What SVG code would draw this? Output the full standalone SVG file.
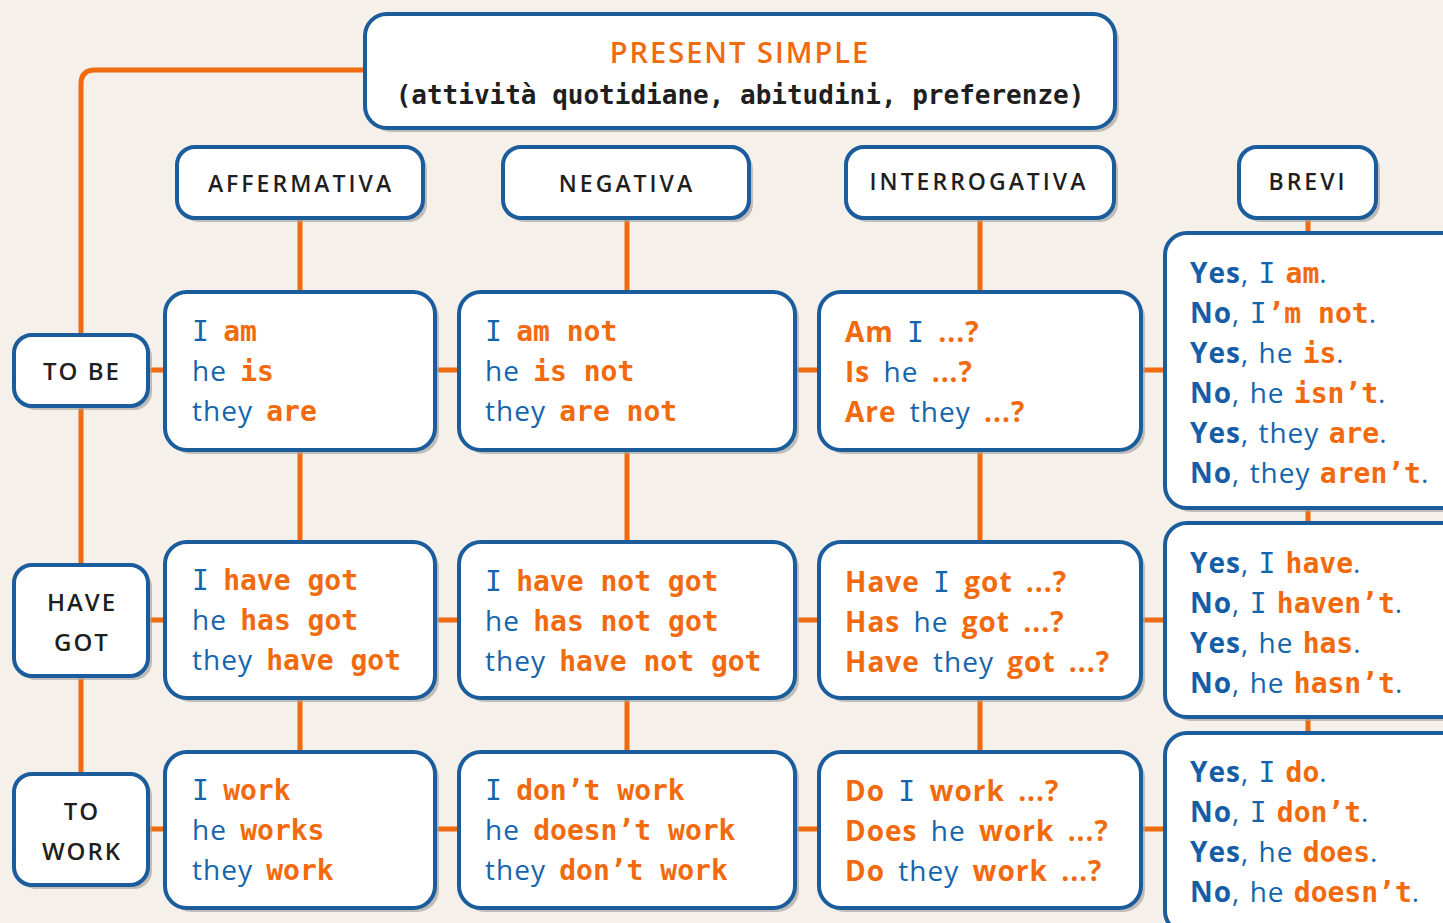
<svg xmlns="http://www.w3.org/2000/svg" width="1443" height="923" viewBox="0 0 1443 923">
<style>
.bg{fill:#f6f0ea}
.box{fill:#ffffff;stroke:#1a5c9c;stroke-width:4}
.sh{fill:#a9a6a3;opacity:0.7}
.con{stroke:#f06a10;stroke-width:5;fill:none}
.hd{font-family:"Open Sans","Noto Sans",sans-serif;font-size:23px;font-weight:600;fill:#1f1f1f;letter-spacing:3px;text-anchor:middle}
.lb{font-family:"Open Sans","Noto Sans",sans-serif;font-size:24px;font-weight:600;fill:#1f1f1f;letter-spacing:2px;text-anchor:middle}
.t{font-family:"Open Sans","Noto Sans",sans-serif;font-size:28px;fill:#1565ad;letter-spacing:1px;word-spacing:5px}
.s{word-spacing:1px}
.m{font-family:"DejaVu Sans Mono",monospace;font-weight:normal}
.o{font-family:"DejaVu Sans Mono",monospace;font-weight:bold;fill:#f26a0e;font-size:28px;letter-spacing:0;word-spacing:0}
.ob{font-family:"Open Sans","Noto Sans",sans-serif;font-weight:bold;fill:#f26a0e}
.yb{font-weight:bold;fill:#155ea6}
.title{font-family:"Open Sans","Noto Sans",sans-serif;font-size:29px;font-weight:600;fill:#f26a0e;letter-spacing:2px;text-anchor:middle}
.sub{font-family:"DejaVu Sans Mono",monospace;font-size:26px;font-weight:bold;fill:#1f1f1f;text-anchor:middle}
</style>
<rect class="bg" x="0" y="0" width="1443" height="923"/>
<g id="connectors">
<path class="con" d="M365 70 H95 Q81 70 81 84 V775"/>
<path class="con" d="M148 370 H165 M148 620 H165 M148 829 H165"/>
<path class="con" d="M435 370 H459 M795 370 H819 M1141 370 H1165"/>
<path class="con" d="M435 620 H459 M795 620 H819 M1141 620 H1165"/>
<path class="con" d="M435 829 H459 M795 829 H819 M1141 829 H1165"/>
<path class="con" d="M300 218 V292 M300 450 V542 M300 698 V752"/>
<path class="con" d="M627 218 V292 M627 450 V542 M627 698 V752"/>
<path class="con" d="M980 218 V292 M980 450 V542 M980 698 V752"/>
<path class="con" d="M1308 218 V233 M1308 508 V523 M1308 717 V733"/>
</g>
<g id="title">
<rect class="sh" x="369" y="18" width="750" height="114" rx="22"/>
<rect class="box" x="365" y="14" width="750" height="114" rx="22"/>
<text class="title" x="740" y="63">PRESENT SIMPLE</text>
<text class="sub" x="740" y="104">(attività quotidiane, abitudini, preferenze)</text>
</g>
<g id="h-affermativa">
<rect class="sh" x="181" y="151" width="246" height="71" rx="18"/>
<rect class="box" x="177" y="147" width="246" height="71" rx="18"/>
<text class="hd" x="301" y="192">AFFERMATIVA</text>
</g>
<g id="h-negativa">
<rect class="sh" x="507" y="151" width="246" height="71" rx="18"/>
<rect class="box" x="503" y="147" width="246" height="71" rx="18"/>
<text class="hd" x="627" y="192">NEGATIVA</text>
</g>
<g id="h-interrogativa">
<rect class="sh" x="850" y="151" width="268" height="71" rx="18"/>
<rect class="box" x="846" y="147" width="268" height="71" rx="18"/>
<text class="hd" x="979" y="190">INTERROGATIVA</text>
</g>
<g id="h-brevi">
<rect class="sh" x="1243" y="151" width="137" height="71" rx="18"/>
<rect class="box" x="1239" y="147" width="137" height="71" rx="18"/>
<text class="hd" x="1308" y="190">BREVI</text>
</g>
<g id="l-tobe">
<rect class="sh" x="18" y="339" width="134" height="71" rx="18"/>
<rect class="box" x="14" y="335" width="134" height="71" rx="18"/>
<text class="lb" x="82" y="380">TO BE</text>
</g>
<g id="l-havegot">
<rect class="sh" x="18" y="569" width="134" height="111" rx="18"/>
<rect class="box" x="14" y="565" width="134" height="111" rx="18"/>
<text class="lb" x="82" y="611">HAVE</text>
<text class="lb" x="82" y="651">GOT</text>
</g>
<g id="l-towork">
<rect class="sh" x="18" y="778" width="134" height="111" rx="18"/>
<rect class="box" x="14" y="774" width="134" height="111" rx="18"/>
<text class="lb" x="82" y="820">TO</text>
<text class="lb" x="82" y="860">WORK</text>
</g>
<g id="aff-tobe">
<rect class="sh" x="169" y="296" width="270" height="158" rx="22"/>
<rect class="box" x="165" y="292" width="270" height="158" rx="22"/>
<text class="t" x="192" y="341"><tspan class="m">I</tspan> <tspan class="o">am</tspan></text>
<text class="t" x="192" y="381">he <tspan class="o">is</tspan></text>
<text class="t" x="192" y="421">they <tspan class="o">are</tspan></text>
</g>
<g id="neg-tobe">
<rect class="sh" x="463" y="296" width="336" height="158" rx="22"/>
<rect class="box" x="459" y="292" width="336" height="158" rx="22"/>
<text class="t" x="485" y="341"><tspan class="m">I</tspan> <tspan class="o">am not</tspan></text>
<text class="t" x="485" y="381">he <tspan class="o">is not</tspan></text>
<text class="t" x="485" y="421">they <tspan class="o">are not</tspan></text>
</g>
<g id="int-tobe">
<rect class="sh" x="823" y="296" width="322" height="158" rx="22"/>
<rect class="box" x="819" y="292" width="322" height="158" rx="22"/>
<text class="t" x="845" y="342"><tspan class="ob">Am</tspan> <tspan class="m">I</tspan> <tspan class="ob">...?</tspan></text>
<text class="t" x="845" y="382"><tspan class="ob">Is</tspan> he <tspan class="ob">...?</tspan></text>
<text class="t" x="845" y="422"><tspan class="ob">Are</tspan> they <tspan class="ob">...?</tspan></text>
</g>
<g id="brevi-tobe">
<rect class="sh" x="1169" y="237" width="300" height="275" rx="22"/>
<rect class="box" x="1165" y="233" width="300" height="275" rx="22"/>
<text class="t s" x="1190" y="283"><tspan class="yb">Yes</tspan>, <tspan class="m">I</tspan> <tspan class="o">am</tspan>.</text>
<text class="t s" x="1190" y="323"><tspan class="yb">No</tspan>, <tspan class="m">I</tspan><tspan class="o">’m not</tspan>.</text>
<text class="t s" x="1190" y="363"><tspan class="yb">Yes</tspan>, he <tspan class="o">is</tspan>.</text>
<text class="t s" x="1190" y="403"><tspan class="yb">No</tspan>, he <tspan class="o">isn’t</tspan>.</text>
<text class="t s" x="1190" y="443"><tspan class="yb">Yes</tspan>, they <tspan class="o">are</tspan>.</text>
<text class="t s" x="1190" y="483"><tspan class="yb">No</tspan>, they <tspan class="o">aren’t</tspan>.</text>
</g>
<g id="aff-havegot">
<rect class="sh" x="169" y="546" width="270" height="156" rx="22"/>
<rect class="box" x="165" y="542" width="270" height="156" rx="22"/>
<text class="t" x="192" y="590"><tspan class="m">I</tspan> <tspan class="o">have got</tspan></text>
<text class="t" x="192" y="630">he <tspan class="o">has got</tspan></text>
<text class="t" x="192" y="670">they <tspan class="o">have got</tspan></text>
</g>
<g id="neg-havegot">
<rect class="sh" x="463" y="546" width="336" height="156" rx="22"/>
<rect class="box" x="459" y="542" width="336" height="156" rx="22"/>
<text class="t" x="485" y="591"><tspan class="m">I</tspan> <tspan class="o">have not got</tspan></text>
<text class="t" x="485" y="631">he <tspan class="o">has not got</tspan></text>
<text class="t" x="485" y="671">they <tspan class="o">have not got</tspan></text>
</g>
<g id="int-havegot">
<rect class="sh" x="823" y="546" width="322" height="156" rx="22"/>
<rect class="box" x="819" y="542" width="322" height="156" rx="22"/>
<text class="t" x="845" y="592"><tspan class="ob">Have</tspan> <tspan class="m">I</tspan> <tspan class="ob">got ...?</tspan></text>
<text class="t" x="845" y="632"><tspan class="ob">Has</tspan> he <tspan class="ob">got ...?</tspan></text>
<text class="t" x="845" y="672"><tspan class="ob">Have</tspan> they <tspan class="ob">got ...?</tspan></text>
</g>
<g id="brevi-havegot">
<rect class="sh" x="1169" y="527" width="300" height="194" rx="22"/>
<rect class="box" x="1165" y="523" width="300" height="194" rx="22"/>
<text class="t s" x="1190" y="573"><tspan class="yb">Yes</tspan>, <tspan class="m">I</tspan> <tspan class="o">have</tspan>.</text>
<text class="t s" x="1190" y="613"><tspan class="yb">No</tspan>, <tspan class="m">I</tspan> <tspan class="o">haven’t</tspan>.</text>
<text class="t s" x="1190" y="653"><tspan class="yb">Yes</tspan>, he <tspan class="o">has</tspan>.</text>
<text class="t s" x="1190" y="693"><tspan class="yb">No</tspan>, he <tspan class="o">hasn’t</tspan>.</text>
</g>
<g id="aff-towork">
<rect class="sh" x="169" y="756" width="270" height="156" rx="22"/>
<rect class="box" x="165" y="752" width="270" height="156" rx="22"/>
<text class="t" x="192" y="800"><tspan class="m">I</tspan> <tspan class="o">work</tspan></text>
<text class="t" x="192" y="840">he <tspan class="o">works</tspan></text>
<text class="t" x="192" y="880">they <tspan class="o">work</tspan></text>
</g>
<g id="neg-towork">
<rect class="sh" x="463" y="756" width="336" height="156" rx="22"/>
<rect class="box" x="459" y="752" width="336" height="156" rx="22"/>
<text class="t" x="485" y="800"><tspan class="m">I</tspan> <tspan class="o">don’t work</tspan></text>
<text class="t" x="485" y="840">he <tspan class="o">doesn’t work</tspan></text>
<text class="t" x="485" y="880">they <tspan class="o">don’t work</tspan></text>
</g>
<g id="int-towork">
<rect class="sh" x="823" y="756" width="322" height="156" rx="22"/>
<rect class="box" x="819" y="752" width="322" height="156" rx="22"/>
<text class="t" x="845" y="801"><tspan class="ob">Do</tspan> <tspan class="m">I</tspan> <tspan class="ob">work ...?</tspan></text>
<text class="t" x="845" y="841"><tspan class="ob">Does</tspan> he <tspan class="ob">work ...?</tspan></text>
<text class="t" x="845" y="881"><tspan class="ob">Do</tspan> they <tspan class="ob">work ...?</tspan></text>
</g>
<g id="brevi-towork">
<rect class="sh" x="1169" y="737" width="300" height="200" rx="22"/>
<rect class="box" x="1165" y="733" width="300" height="200" rx="22"/>
<text class="t s" x="1190" y="782"><tspan class="yb">Yes</tspan>, <tspan class="m">I</tspan> <tspan class="o">do</tspan>.</text>
<text class="t s" x="1190" y="822"><tspan class="yb">No</tspan>, <tspan class="m">I</tspan> <tspan class="o">don’t</tspan>.</text>
<text class="t s" x="1190" y="862"><tspan class="yb">Yes</tspan>, he <tspan class="o">does</tspan>.</text>
<text class="t s" x="1190" y="902"><tspan class="yb">No</tspan>, he <tspan class="o">doesn’t</tspan>.</text>
</g>
</svg>
